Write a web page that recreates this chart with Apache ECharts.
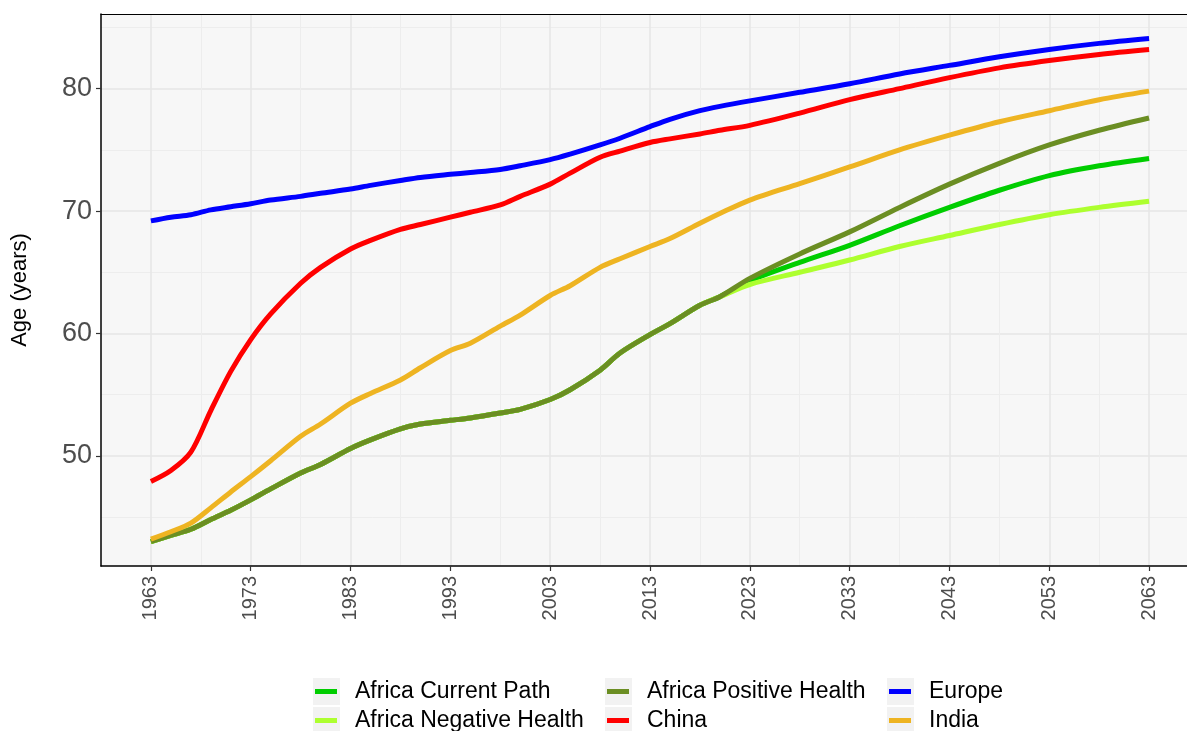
<!DOCTYPE html>
<html>
<head>
<meta charset="utf-8">
<script src="https://cdn.jsdelivr.net/npm/echarts@6/dist/echarts.min.js"></script>
<style>
  html, body { margin: 0; padding: 0; background: #fff; }
  #chart { width: 1187px; height: 731px; }
</style>
</head>
<body>
<div id="chart"></div>
<script>
// years sampled from the reference curves
const years = [1963, 1965, 1967, 1969, 1971, 1973, 1975, 1978, 1980, 1983, 1985, 1988, 1990,
  1993, 1995, 1998, 2000, 2003, 2005, 2008, 2010, 2013, 2015, 2018, 2020,
  2023, 2028, 2033, 2038, 2043, 2048, 2053, 2058, 2063];

const europe = [69.2, 69.5, 69.7, 70.1, 70.35, 70.6, 70.9, 71.2, 71.45, 71.8, 72.1, 72.5, 72.75,
  73.0, 73.15, 73.4, 73.7, 74.2, 74.65, 75.4, 75.95, 76.9, 77.5, 78.2, 78.55,
  79.0, 79.7, 80.4, 81.2, 81.9, 82.6, 83.2, 83.7, 84.1];

const china = [47.9, 48.8, 50.3, 53.7, 56.9, 59.5, 61.6, 64.1, 65.4, 66.9, 67.6, 68.5, 68.9,
  69.5, 69.9, 70.5, 71.2, 72.2, 73.1, 74.4, 74.9, 75.6, 75.9, 76.3, 76.6,
  77.0, 78.0, 79.1, 80.0, 80.9, 81.7, 82.3, 82.8, 83.2];

const india = [43.2, 43.8, 44.5, 45.75, 47.05, 48.3, 49.6, 51.6, 52.6, 54.3, 55.1, 56.2, 57.2,
  58.6, 59.2, 60.6, 61.5, 63.1, 63.9, 65.4, 66.1, 67.1, 67.75, 69.0, 69.8,
  70.9, 72.25, 73.6, 75.0, 76.2, 77.3, 78.2, 79.1, 79.8];

// Africa shares its history up to 2020, then splits into three scenarios
const africaHistory = [43.0, 43.5, 44.0, 44.8, 45.55, 46.4, 47.3, 48.6, 49.3, 50.6, 51.3, 52.2, 52.6,
  52.9, 53.1, 53.5, 53.8, 54.6, 55.4, 57.0, 58.4, 59.9, 60.8, 62.3, 63.0];
const africaCurrentFuture = [64.3, 65.8, 67.2, 68.8, 70.3, 71.7, 72.9, 73.7, 74.3];
const africaNegativeFuture = [64.0, 65.0, 66.0, 67.1, 68.0, 68.9, 69.7, 70.3, 70.8];
const africaPositiveFuture = [64.5, 66.5, 68.3, 70.3, 72.2, 73.9, 75.4, 76.6, 77.6];

const seriesNames = ['Africa Current Path', 'Africa Negative Health', 'Africa Positive Health',
  'China', 'Europe', 'India'];
const seriesColors = ['#00CD00', '#ADFF2F', '#6B8E23', '#FF0000', '#0000FF', '#EEB422'];

const xTicks = [1963, 1973, 1983, 1993, 2003, 2013, 2023, 2033, 2043, 2053, 2063];
const xMinor = [1968, 1978, 1988, 1998, 2008, 2018, 2028, 2038, 2048, 2058];
const yTicks = [50, 60, 70, 80];
const yMinor = [45, 55, 65, 75, 85];

const FONT = '"Liberation Sans", Arial, sans-serif';

const seriesValues = [
  africaHistory.concat(africaCurrentFuture),
  africaHistory.concat(africaNegativeFuture),
  africaHistory.concat(africaPositiveFuture),
  china, europe, india,
];

const chart = echarts.init(document.getElementById('chart'), null, { renderer: 'canvas' });

// legend: three columns of two, filled column-wise like ggplot
const legendLeft = [315, 607, 889];
const legendTop = [677, 706];
const legends = seriesNames.map((name, i) => ({
  left: legendLeft[Math.floor(i / 2)],
  top: legendTop[i % 2],
  padding: 0,
  itemWidth: 22,
  itemHeight: 5,
  icon: 'rect',
  selectedMode: false,
  data: [name],
  textStyle: { fontFamily: FONT, fontSize: 23, color: '#000', lineHeight: 29, padding: [0, 0, 0, 13] },
}));

// grey key backgrounds behind the legend swatches
const keyBoxes = [];
legendLeft.forEach(lx => {
  legendTop.forEach(ty => {
    keyBoxes.push({
      type: 'rect', z: -1,
      shape: { x: lx - 2, y: ty + 1, width: 27, height: 27 },
      style: { fill: '#F2F2F2' },
    });
  });
});

chart.setOption({
  animation: false,
  backgroundColor: '#fff',
  grid: {
    left: 101, top: 14, right: 0, height: 552,
    show: true, backgroundColor: '#F7F7F7', borderWidth: 0,
  },
  graphic: keyBoxes,
  legend: legends,
  xAxis: [{
    type: 'value', min: 1958, max: 2066.8,
    axisLine: { show: true, lineStyle: { color: '#000', width: 1.5 } },
    axisTick: { show: true, length: 5, customValues: xTicks, lineStyle: { color: '#333', width: 1.2 } },
    axisLabel: {
      customValues: xTicks, rotate: 90, margin: 10,
      fontFamily: FONT, fontSize: 20, color: '#4D4D4D',
      formatter: v => String(v),
    },
    splitLine: { show: true, lineStyle: { color: '#E6E6E6', width: 1.5 } },
  }, {
    type: 'value', min: 1958, max: 2066.8, position: 'top',
    axisLine: { show: true, onZero: false, lineStyle: { color: '#000', width: 1.2 } },
    axisLabel: { show: false },
    axisTick: { show: false, customValues: xMinor },
    splitLine: { show: true, lineStyle: { color: '#EDEDED', width: 1 } },
  }],
  yAxis: [{
    type: 'value', min: 41, max: 86.1,
    name: 'Age (years)', nameLocation: 'middle', nameGap: 70,
    nameTextStyle: { fontFamily: FONT, fontSize: 22, color: '#000' },
    axisLine: { show: true, lineStyle: { color: '#000', width: 1.5 } },
    axisTick: { show: true, length: 5, customValues: yTicks, lineStyle: { color: '#333', width: 1.2 } },
    axisLabel: { customValues: yTicks, margin: 9, fontFamily: FONT, fontSize: 27, color: '#4D4D4D' },
    splitLine: { show: true, lineStyle: { color: '#E6E6E6', width: 1.5 } },
  }, {
    type: 'value', min: 41, max: 86.1, position: 'left',
    axisLine: { show: false }, axisLabel: { show: false },
    axisTick: { show: false, customValues: yMinor },
    splitLine: { show: true, lineStyle: { color: '#EDEDED', width: 1 } },
  }],
  series: seriesNames.map((name, i) => ({
    name,
    type: 'line',
    smooth: 0.3,
    showSymbol: false,
    symbol: 'none',
    color: seriesColors[i],
    lineStyle: { width: 5, color: seriesColors[i], cap: 'butt', join: 'round' },
    data: years.map((yr, k) => [yr, seriesValues[i][k]]),
  })),
});
</script>
</body>
</html>
